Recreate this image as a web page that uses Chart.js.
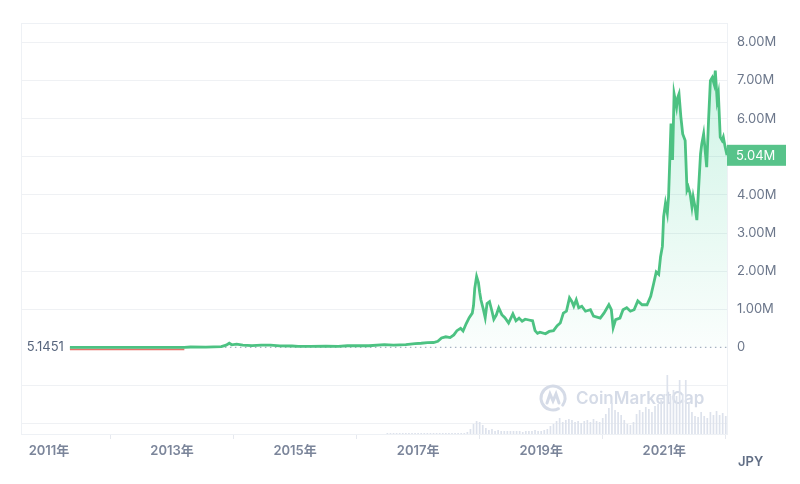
<!DOCTYPE html>
<html>
<head>
<meta charset="utf-8">
<script src="https://cdn.jsdelivr.net/npm/chart.js@4.4.0/dist/chart.umd.min.js"></script>
<style>
  body { margin: 0; background: #fff; }
  #wrap { width: 800px; height: 484px; }
</style>
</head>
<body>
<div id="wrap"><canvas id="myChart" width="800" height="484"></canvas></div>
<script>
// BTC / JPY, decimal years
var dates = [2011.34, 2011.55, 2011.9, 2012.4, 2012.9, 2013.2, 2013.3, 2013.55, 2013.8, 2013.88,
    2013.93, 2013.97, 2014.05, 2014.15, 2014.3, 2014.45, 2014.6, 2014.75, 2014.95, 2015.05,
    2015.25, 2015.5, 2015.7, 2015.85, 2016.0, 2016.2, 2016.45, 2016.6, 2016.8, 2016.95,
    2017.05, 2017.15, 2017.25, 2017.32, 2017.38, 2017.45, 2017.52, 2017.58, 2017.63, 2017.69,
    2017.73, 2017.78, 2017.83, 2017.88, 2017.9, 2017.92, 2017.95, 2017.98, 2018.0, 2018.02,
    2018.06, 2018.09, 2018.12, 2018.16, 2018.2, 2018.23, 2018.27, 2018.31, 2018.36, 2018.41,
    2018.47, 2018.54, 2018.59, 2018.64, 2018.69, 2018.74, 2018.8, 2018.86, 2018.9, 2018.94,
    2018.98, 2019.07, 2019.13, 2019.2, 2019.26, 2019.31, 2019.36, 2019.41, 2019.46, 2019.5,
    2019.53, 2019.57, 2019.61, 2019.66, 2019.72, 2019.8, 2019.85, 2019.96, 2020.02, 2020.1,
    2020.14, 2020.17, 2020.21, 2020.28, 2020.33, 2020.39, 2020.45, 2020.51, 2020.57, 2020.64,
    2020.72, 2020.78, 2020.83, 2020.87, 2020.91, 2020.94, 2020.97, 2020.99, 2021.02, 2021.05,
    2021.07, 2021.09, 2021.11, 2021.135, 2021.16, 2021.2, 2021.22, 2021.24, 2021.27, 2021.3,
    2021.34, 2021.37, 2021.39, 2021.42, 2021.45, 2021.47, 2021.5, 2021.53, 2021.56, 2021.59,
    2021.61, 2021.64, 2021.67, 2021.69, 2021.72, 2021.75, 2021.78, 2021.81, 2021.83, 2021.86,
    2021.88, 2021.91, 2021.94, 2021.96, 2021.99, 2022.02];
var prices = [5.1451, 1500, 300, 500, 1100, 4000, 12000, 8000, 20000, 60000,
    110000, 70000, 88000, 62000, 48000, 62000, 60000, 42000, 38000, 27000,
    29000, 33000, 28000, 45000, 50000, 45000, 75000, 62000, 75000, 100000,
    110000, 125000, 130000, 160000, 250000, 280000, 260000, 330000, 440000, 500000,
    430000, 620000, 780000, 900000, 1100000, 1550000, 1860000, 1700000, 1450000, 1250000,
    1000000, 780000, 1150000, 1200000, 950000, 740000, 850000, 1040000, 860000, 780000,
    640000, 880000, 700000, 770000, 690000, 740000, 720000, 700000, 440000, 370000,
    400000, 360000, 420000, 440000, 570000, 640000, 900000, 950000, 1300000, 1200000,
    1080000, 1250000, 1040000, 1080000, 950000, 990000, 820000, 770000, 900000, 1120000,
    990000, 520000, 730000, 770000, 990000, 1040000, 950000, 990000, 1220000, 1120000,
    1120000, 1340000, 1690000, 1980000, 1920000, 2380000, 2650000, 3430000, 3780000, 3520000,
    3950000, 4900000, 5870000, 4920000, 6650000, 6300000, 6560000, 6650000, 6050000, 5600000,
    5430000, 4130000, 4210000, 4040000, 3690000, 3950000, 3690000, 3340000, 4210000, 5080000,
    5340000, 5600000, 5080000, 4730000, 5950000, 7000000, 7080000, 6910000, 7260000, 6480000,
    6650000, 5520000, 5430000, 5520000, 5260000, 5040000];

// volume (10^11 JPY), one bar every 0.05 yr from 2016.5
var volStart = 2016.5;
var volumes = [0.1, 0.1, 0.1, 0.1, 0.1, 0.1, 0.1, 0.1, 0.1, 0.1,
    0.1, 0.1, 0.1, 0.1, 0.1, 0.1, 0.1, 0.1, 0.1, 0.1,
    0.1, 0.1, 0.1, 0.1, 0.1, 0.1, 0.2, 0.5, 1.0, 1.3,
    1.2, 0.9, 0.6, 0.4, 0.5, 0.3, 0.4, 0.3, 0.3, 0.3,
    0.3, 0.3, 0.3, 0.3, 0.2, 0.3, 0.3, 0.3, 0.4, 0.3,
    0.3, 0.4, 0.5, 0.8, 1.0, 1.3, 1.6, 1.2, 1.4, 1.5,
    1.4, 1.2, 1.3, 1.1, 1.3, 1.4, 1.2, 1.5, 1.3, 1.2,
    1.6, 2.0, 2.6, 3.1, 2.4, 2.2, 1.9, 1.4, 1.0, 0.9,
    1.2, 2.0, 2.4, 2.2, 2.7, 2.5, 2.2, 2.8, 3.0, 3.4,
    4.0, 5.9, 3.8, 4.4, 3.8, 5.4, 4.0, 5.4, 3.2, 2.2,
    1.8, 1.7, 2.2, 1.8, 1.6, 2.2, 1.9, 2.3, 1.9, 2.1, 1.8];

var tickYears = [2011, 2013, 2015, 2017, 2019, 2021];
var priceTicks = [-2e6, -1e6, 0, 1e6, 2e6, 3e6, 4e6, 5e6, 6e6, 7e6, 8e6];
var refPrice = 5.1451;
var redEnd = 2013.2;

var priceData = dates.map(function (d, i) { return { x: d, y: prices[i] }; });
var volData = volumes.map(function (v, i) { return { x: volStart + i * 0.05, y: v }; });

function fmtM(v) {
    if (Math.abs(v) < 1) return '0';
    return (v / 1e6).toFixed(2) + 'M';
}

var decor = {
    id: 'decor',
    beforeDraw: function (chart) {
        var c = chart.ctx;
        c.save();
        c.fillStyle = '#fff';
        c.fillRect(0, 0, chart.width, chart.height);
        c.restore();
    },
    beforeDatasetsDraw: function (chart) {
        var c = chart.ctx, a = chart.chartArea;
        // watermark
        var cx = a.right - 174, cy = a.bottom - 36;
        c.save();
        c.strokeStyle = '#d5dbe7';
        c.lineWidth = 3;
        c.lineCap = 'round';
        c.beginPath();
        c.arc(cx, cy, 12, 0.35 * Math.PI, 2.2 * Math.PI);
        c.stroke();
        c.beginPath();
        c.moveTo(cx - 6, cy + 5);
        c.lineTo(cx - 3, cy - 4);
        c.lineTo(cx, cy + 3);
        c.lineTo(cx + 3, cy - 4);
        c.lineTo(cx + 6, cy + 5);
        c.stroke();
        c.fillStyle = '#d5dbe7';
        c.font = '600 17px Inter, "Open Sans", sans-serif';
        c.textBaseline = 'middle';
        c.textAlign = 'left';
        c.fillText('CoinMarketCap', cx + 23, cy + 1);
        c.restore();
    },
    // the red start segment sits just under the price line
    beforeDatasetDraw: function (chart, args) {
        if (args.index === 1) { chart.ctx.save(); chart.ctx.translate(0, 1.9); }
    },
    afterDatasetDraw: function (chart, args) {
        if (args.index === 1) chart.ctx.restore();
    },
    afterDraw: function (chart) {
        var c = chart.ctx, a = chart.chartArea;
        var y = chart.scales.y, x = chart.scales.x;
        c.save();
        // frame
        c.strokeStyle = '#eef1f5';
        c.lineWidth = 1;
        c.strokeRect(a.left + 0.5, a.top + 0.5, a.right - a.left, a.bottom - a.top);
        // start price label
        c.font = '13px Inter, sans-serif';
        c.fillStyle = '#58667e';
        c.textAlign = 'right';
        c.textBaseline = 'middle';
        c.fillText(String(refPrice), x.getPixelForValue(dates[0]) - 6, y.getPixelForValue(refPrice));
        // last price box
        var last = prices[prices.length - 1];
        var py = y.getPixelForValue(last);
        c.fillStyle = '#57c38a';
        c.fillRect(a.right, py - 10.5, 59, 21);
        c.fillStyle = '#fff';
        c.textAlign = 'left';
        c.fillText(fmtM(last), a.right + 9, py + 0.5);
        // currency
        c.font = '600 13px Inter, sans-serif';
        c.fillStyle = '#616e85';
        c.fillText('JPY', a.right + 11, a.bottom + 28);
        c.restore();
    }
};

var ctx = document.getElementById('myChart').getContext('2d');
var myChart = new Chart(ctx, {
    type: 'line',
    data: {
        datasets: [{
            label: 'price',
            data: priceData,
            borderColor: '#4cc282',
            borderWidth: 2.8,
            pointRadius: 0,
            tension: 0,
            fill: { value: 0 },
            backgroundColor: function (context) {
                var chart = context.chart, a = chart.chartArea;
                if (!a) return 'rgba(22,199,132,0.1)';
                var g = chart.ctx.createLinearGradient(0, a.top, 0, chart.scales.y.getPixelForValue(0));
                g.addColorStop(0, 'rgba(22,199,132,0.24)');
                g.addColorStop(1, 'rgba(22,199,132,0.02)');
                return g;
            },
            order: 0
        }, {
            label: 'start',
            data: [{ x: dates[0], y: refPrice }, { x: redEnd, y: refPrice }],
            borderColor: '#e8706a',
            borderWidth: 1.8,
            pointRadius: 0,
            fill: false,
            order: 1
        }, {
            label: 'ref',
            data: [{ x: dates[0], y: refPrice }, { x: dates[dates.length - 1], y: refPrice }],
            borderColor: '#a7b1c2',
            borderWidth: 1.2,
            borderDash: [1.5, 3.5],
            pointRadius: 0,
            fill: false,
            order: 2
        }, {
            type: 'bar',
            label: 'volume',
            data: volData,
            yAxisID: 'yv',
            backgroundColor: '#dde2ec',
            barPercentage: 0.55,
            categoryPercentage: 1,
            order: 3
        }]
    },
    options: {
        responsive: false,
        animation: false,
        layout: { padding: { left: 21, top: 23, right: 0, bottom: 0 } },
        plugins: { legend: { display: false }, tooltip: { enabled: false } },
        scales: {
            x: {
                type: 'linear',
                min: 2010.545,
                max: 2022.02,
                offset: false,
                afterBuildTicks: function (s) { s.ticks = tickYears.map(function (v) { return { value: v }; }); },
                afterFit: function (s) { s.height = 50; },
                grid: { drawOnChartArea: false, drawTicks: true, tickLength: 5, color: '#e6e9ef' },
                border: { display: false },
                ticks: {
                    padding: 4,
                    maxRotation: 0,
                    color: '#7b859a',
                    font: { family: 'Inter, "Noto Sans CJK JP"', size: 13, weight: '600' },
                    callback: function (v) { return v + '年'; }
                }
            },
            y: {
                type: 'linear',
                position: 'right',
                min: -2.27e6,
                max: 8.51e6,
                afterBuildTicks: function (s) { s.ticks = priceTicks.map(function (v) { return { value: v }; }); },
                afterFit: function (s) { s.width = 73; },
                ticks: {
                    padding: 10,
                    autoSkip: false,
                    color: '#6c778b',
                    font: { family: 'Inter', size: 13 },
                    callback: function (v) { return v < 0 ? '' : fmtM(v); }
                },
                grid: {
                    drawTicks: false,
                    color: function (c) {
                        return c.tick.value === 0 ? 'rgba(0,0,0,0)' : '#eff1f4';
                    }
                },
                border: { display: false }
            },
            yv: {
                type: 'linear',
                display: false,
                min: 0,
                max: 41.1
            }
        }
    },
    plugins: [decor]
});
</script>
</body>
</html>
